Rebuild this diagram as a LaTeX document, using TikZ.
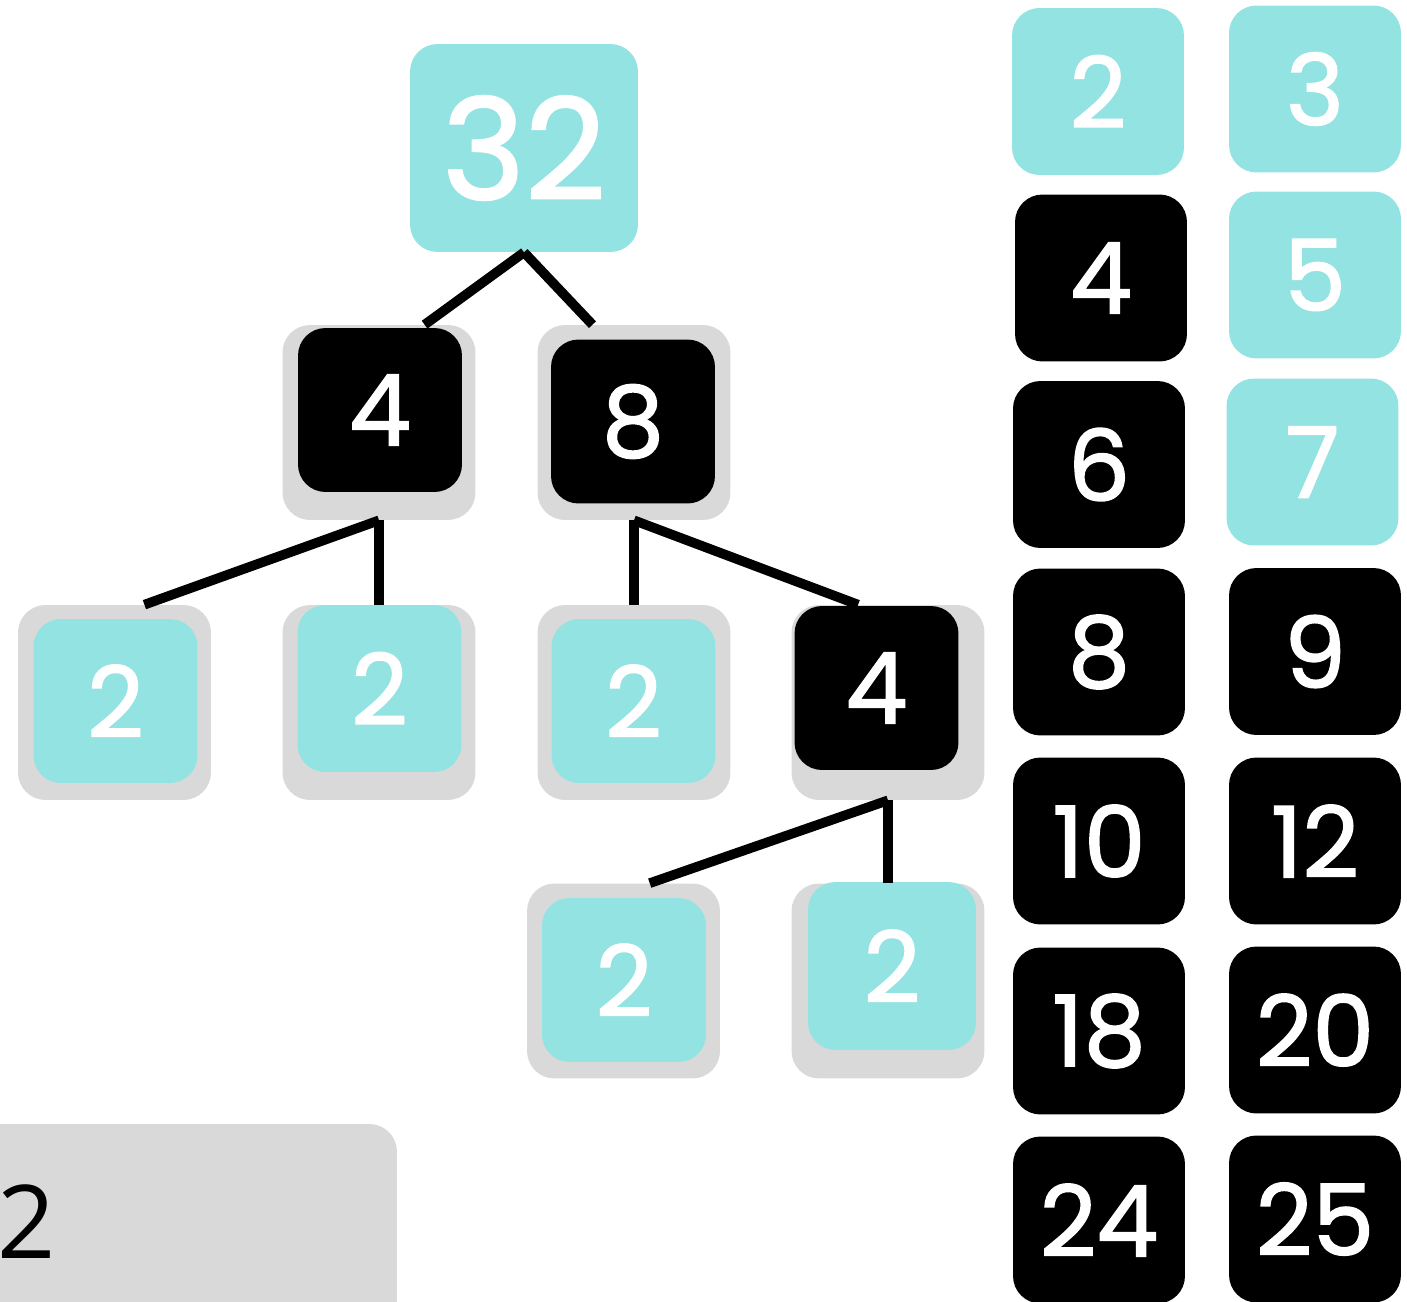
\documentclass[tikz,border=0pt]{standalone}
\usepackage{fontspec}
\setmainfont{Poppins}
\newfontfamily\tilefont[FakeBold=1.6]{Poppins}
\newfontfamily\answerfont{Open Sans}
\usetikzlibrary{positioning}
\definecolor{tilecyan}{RGB}{147,227,226}
\definecolor{backgray}{RGB}{217,217,217}
\tikzset{
  tile/.style={rounded corners=0.55cm, text=white, inner sep=0pt,
    font=\tilefont\fontsize{56}{60}\selectfont},
  cyantile/.style={tile, fill=tilecyan},
  blacktile/.style={tile, fill=black},
  treetile/.style={minimum width=3.28cm, minimum height=3.28cm},
  listtile/.style={minimum width=3.44cm, minimum height=3.34cm},
  backtile/.style={rounded corners=0.55cm, fill=backgray, minimum width=3.86cm, minimum height=3.9cm},
  branch/.style={line width=5.5pt}
}

\begin{document}
\begin{tikzpicture}[x=0.02cm, y=-0.02cm]
    \useasboundingbox (0,0) rectangle (1407,1302);

    % factor tree
    \node[cyantile, minimum width=4.56cm, minimum height=4.16cm,
          font=\tilefont\fontsize{80}{84}\selectfont] (n32) at (524,148) {32};

    \node[backtile] (b4) at (379,422.5) {};
    \node[blacktile, treetile] (n4) at (380,410) {4};
    \node[backtile] (b8) at (634,422.5) {};
    \node[blacktile, treetile] (n8) at (633,421.5) {8};

    \node[backtile] (b2a) at (114.5,702.5) {};
    \node[cyantile, treetile] (n2a) at (115.5,701) {2};
    \node[backtile] (b2b) at (379,702.5) {};
    \node[cyantile, treetile, minimum height=3.34cm] (n2b) at (379.5,688.5) {2};
    \node[backtile] (b2c) at (634,702.5) {};
    \node[cyantile, treetile] (n2c) at (633.5,701) {2};
    \node[backtile] (b4b) at (888,702.5) {};
    \node[blacktile, treetile] (n4b) at (876.5,688) {4};

    \node[backtile] (b2d) at (623.5,981) {};
    \node[cyantile, treetile] (n2d) at (624,980) {2};
    \node[backtile] (b2e) at (888,981) {};
    \node[cyantile, minimum width=3.36cm, minimum height=3.36cm] (n2e) at (892,966) {2};

    \draw[branch] (n32.south) -- (b4.65);
    \draw[branch] (n32.south) -- (b8.113);
    \draw[branch] (b4.south) -- (b2a.73);
    \draw[branch] (b4.south) -- (b2b.north);
    \draw[branch] (b8.south) -- (b2c.north);
    \draw[branch] (b8.south) -- (b4b.107);
    \draw[branch] (b4b.south) -- (b2d.75);
    \draw[branch] (b4b.south) -- (b2e.north);

    % answer box
    \node[fill=backgray, rounded corners=0.55cm, minimum width=8.6cm, minimum height=4.4cm] (answerbox) at (182,1234) {};
    \node[font=\answerfont\fontsize{58}{62}\selectfont, inner sep=0pt] (answer) at (27,1222) {2};

    % number list
    \node[cyantile, listtile] (l2) at (1098,91.5) {2};
    \node[cyantile, listtile] (l3) at (1315,89) {3};
    \node[blacktile, listtile] (l4) at (1101,278) {4};
    \node[cyantile, listtile] (l5) at (1315,275) {5};
    \node[blacktile, listtile] (l6) at (1099,464.5) {6};
    \node[cyantile, listtile] (l7) at (1312.5,462) {7};
    \node[blacktile, listtile] (l8) at (1099,652) {8};
    \node[blacktile, listtile] (l9) at (1315,651.5) {9};
    \node[blacktile, listtile] (l10) at (1099,841) {10};
    \node[blacktile, listtile] (l12) at (1315,841) {12};
    \node[blacktile, listtile] (l18) at (1099,1031) {18};
    \node[blacktile, listtile] (l20) at (1315,1030) {20};
    \node[blacktile, listtile] (l24) at (1099,1220) {24};
    \node[blacktile, listtile] (l25) at (1315,1219) {25};
\end{tikzpicture}
\end{document}
